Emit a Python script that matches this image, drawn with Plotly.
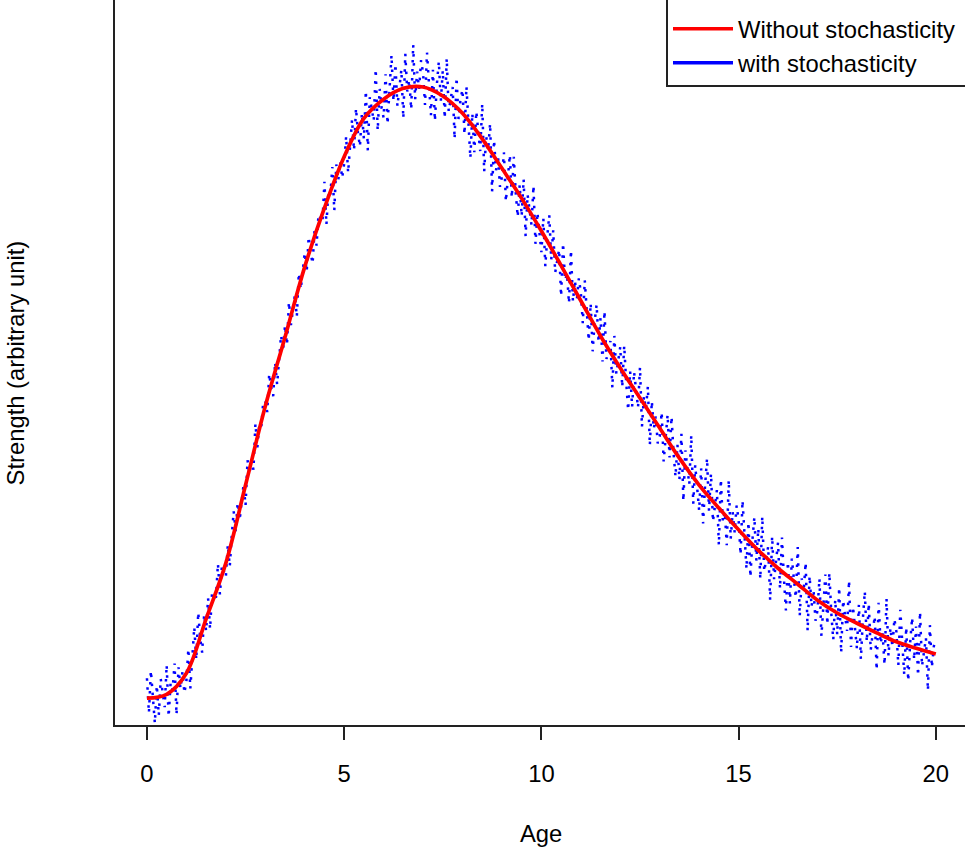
import plotly.graph_objects as go

# ---------------- data ----------------
age_det = [i * 0.5 for i in range(41)]
strength_det = [4.2, 4.8, 8.1, 16.6, 25.3, 37.5, 49.8, 60.6, 71.6, 80.8,
                88.8, 94.8, 97.8, 99.5, 99.7, 98.3, 95.6, 91.6, 87.0, 82.3,
                77.2, 71.8, 66.3, 60.8, 55.8, 51.1, 46.4, 41.7, 37.5, 33.9,
                30.5, 27.3, 24.5, 22.0, 19.5, 17.5, 15.9, 14.4, 13.0, 12.0, 11.1]

age_sto = [i * 0.05 for i in range(401)]
strength_sto = [
    7.3, 1.9, 8.5, 3.6, 0.3, 6.2, 1.5, 7.2, 5.1, 2.8,
    9.4, 1.3, 6.6, 5.5, 9.6, 1.6, 9.0, 5.7, 8.3, 5.0,
    6.9, 11.9, 5.7, 11.3, 15.3, 10.2, 17.6, 13.6, 11.3, 17.3,
    14.7, 19.8, 15.0, 20.6, 20.2, 19.9, 25.2, 20.4, 24.9, 23.8,
    23.1, 28.2, 24.8, 29.6, 33.4, 30.2, 34.8, 32.0, 34.8, 37.6,
    34.3, 41.4, 39.2, 41.4, 39.9, 47.1, 43.4, 47.1, 46.7, 50.6,
    50.6, 48.9, 54.9, 52.6, 51.4, 56.7, 53.2, 57.8, 60.9, 58.4,
    62.5, 59.4, 66.1, 62.5, 64.9, 67.2, 63.8, 70.6, 68.1, 71.1,
    73.8, 70.8, 76.3, 73.8, 72.1, 77.4, 74.9, 79.8, 79.3, 78.6,
    84.9, 78.2, 83.4, 82.9, 87.2, 80.4, 87.6, 85.1, 88.0, 85.5,
    87.7, 92.0, 86.3, 91.1, 94.6, 89.8, 96.4, 92.5, 90.4, 95.6,
    91.6, 99.1, 89.8, 98.1, 96.1, 94.4, 102.5, 92.9, 99.4, 96.4,
    94.9, 101.7, 93.9, 100.1, 104.7, 97.5, 103.3, 96.7, 99.5, 102.4,
    94.8, 104.9, 99.0, 100.8, 96.2, 106.3, 97.8, 102.1, 99.4, 103.9,
    101.9, 96.9, 105.1, 99.4, 95.3, 102.4, 94.4, 100.1, 103.7, 97.4,
    102.3, 94.8, 104.2, 95.9, 97.9, 99.7, 91.6, 101.2, 94.7, 97.8,
    99.3, 92.3, 99.8, 93.4, 88.6, 95.6, 89.5, 95.9, 92.9, 89.7,
    97.1, 86.5, 92.0, 89.8, 94.0, 83.4, 91.4, 86.7, 89.0, 84.1,
    85.7, 89.5, 81.8, 86.2, 89.1, 82.4, 88.8, 83.2, 79.4, 84.4,
    79.5, 85.3, 76.4, 82.9, 80.4, 78.1, 84.3, 75.2, 80.1, 76.8,
    73.9, 79.2, 71.7, 76.4, 79.7, 72.7, 77.3, 70.7, 72.5, 74.3,
    67.0, 75.3, 69.5, 70.5, 65.9, 74.2, 66.2, 69.5, 66.5, 69.8,
    67.6, 62.8, 69.5, 64.1, 60.1, 65.9, 58.4, 63.0, 65.7, 59.8,
    63.6, 56.8, 64.7, 57.2, 58.7, 60.0, 52.7, 60.8, 54.9, 57.2,
    59.1, 52.8, 59.3, 53.6, 49.2, 55.3, 49.7, 55.2, 52.4, 49.6,
    55.9, 46.6, 51.4, 49.4, 52.9, 43.7, 50.6, 46.3, 48.2, 44.0,
    45.1, 48.9, 41.2, 45.6, 48.5, 41.8, 48.2, 42.6, 38.8, 43.8,
    38.3, 45.5, 35.0, 42.9, 40.1, 37.6, 45.3, 34.6, 40.6, 36.8,
    33.5, 40.1, 31.5, 37.4, 41.7, 33.5, 39.3, 31.8, 34.1, 36.7,
    28.1, 38.4, 31.8, 33.3, 28.1, 38.3, 29.1, 33.3, 30.1, 34.3,
    32.1, 26.6, 35.1, 28.8, 24.4, 31.7, 23.1, 28.9, 32.5, 25.7,
    30.7, 22.8, 32.6, 24.0, 26.1, 27.9, 19.5, 29.5, 22.8, 25.9,
    28.5, 21.3, 29.3, 22.8, 17.9, 25.5, 19.0, 26.0, 23.0, 19.9,
    27.8, 17.0, 22.9, 20.9, 25.4, 14.7, 23.3, 18.5, 21.1, 16.3,
    17.9, 22.9, 13.9, 19.6, 23.5, 15.7, 23.8, 17.5, 13.3, 19.6,
    14.1, 21.5, 11.3, 19.5, 17.0, 14.7, 22.6, 12.2, 18.5, 15.0,
    11.9, 18.8, 10.3, 16.5, 20.9, 13.0, 19.0, 11.7, 14.2, 17.0,
    8.6, 19.1, 12.7, 14.4, 9.4, 19.8, 10.8, 15.2, 12.2, 16.6,
    14.6, 9.3, 18.0, 12.0, 7.8, 15.3, 6.9, 12.9, 16.8, 10.2,
    15.4, 7.7, 17.7, 9.2, 11.5, 13.6, 5.4, 15.6, 9.0, 12.3,
    13.5,
]

x_ticks = [0, 5, 10, 15, 20]
x_tick_labels = ["0", "5", "10", "15", "20"]
series_names = ["Without stochasticity", "with stochasticity"]

FONT = "Liberation Sans, Arial, Helvetica, sans-serif"
FS = 23.8
AX = "#222222"
PAD = "\u00a0"

fig = go.Figure()

# stochastic series (dotted, noisy)
fig.add_trace(go.Scatter(
    x=age_sto, y=strength_sto, mode="lines",
    line=dict(color="#0000FF", width=2.5, dash="2.5px,6.5px"),
    showlegend=False, hoverinfo="skip"))

# deterministic curve
fig.add_trace(go.Scatter(
    x=age_det, y=strength_det, mode="lines",
    line=dict(color="#FF0000", width=3.7, shape="spline", smoothing=1.0),
    name=series_names[0] + PAD, legendrank=1))

# legend key for the stochastic series (solid line, as in the original legend)
fig.add_trace(go.Scatter(
    x=[None], y=[None], mode="lines",
    line=dict(color="#0000FF", width=3.5),
    name=series_names[1], legendrank=2))

fig.update_layout(
    width=965, height=848,
    margin=dict(l=115, r=0, t=0, b=123, pad=0, autoexpand=False),
    paper_bgcolor="white", plot_bgcolor="white",
    font=dict(family=FONT, size=FS, color="black"),
    showlegend=True,
    legend=dict(x=1.0040, y=1.0072, xanchor="right", yanchor="top",
                bgcolor="white", bordercolor=AX, borderwidth=1.6,
                font=dict(family=FONT, size=FS, color="black"),
                title=dict(text="\u00a0", font=dict(size=8)),
                itemwidth=60, tracegroupgap=0),
    xaxis=dict(range=[-0.81, 20.74], tickmode="array", tickvals=x_ticks,
               ticktext=x_tick_labels, ticks="outside", ticklen=13,
               tickwidth=1.8, tickcolor=AX, showline=True, linecolor=AX,
               linewidth=1.8, showgrid=False, zeroline=False,
               tickfont=dict(family=FONT, size=FS, color="black"),
               ticklabelstandoff=14),
    yaxis=dict(range=[0, 113.3], showticklabels=False, ticks="",
               showline=True, linecolor=AX, linewidth=1.8,
               showgrid=False, zeroline=False),
    annotations=[
        dict(text="Age", xref="paper", yref="paper", x=0.501, y=-0.149,
             xanchor="center", yanchor="middle", showarrow=False,
             font=dict(family=FONT, size=FS, color="black")),
        dict(text="Strength (arbitrary unit)", xref="paper", yref="paper",
             x=-0.1165, y=0.5, xanchor="center", yanchor="middle",
             textangle=-90, showarrow=False,
             font=dict(family=FONT, size=FS, color="black")),
    ],
)

fig.write_html("out.html", config={"displayModeBar": False})
